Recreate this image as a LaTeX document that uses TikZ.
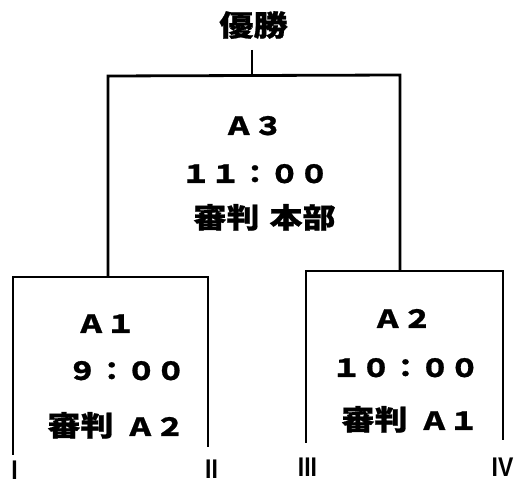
\documentclass[tikz,border=0pt]{standalone}
\usepackage{fontspec}
\setmainfont{Liberation Sans}
\newfontfamily\jp{Noto Sans CJK JP}[FakeStretch=1.18,FakeBold=0.8]
\newfontfamily\romf{Liberation Sans}[FakeStretch=0.85]
\newcommand{\kj}[1]{{\fontsize{28}{28}\selectfont #1}}
\tikzset{
  ln/.style={line width=2.8pt},
  lab/.style={font=\jp\bfseries\fontsize{25}{25}\selectfont, anchor=base, inner sep=0pt},
  ttl/.style={font=\jp\bfseries\fontsize{29}{29}\selectfont, anchor=base, inner sep=0pt},
  rom/.style={font=\romf\bfseries\fontsize{27}{27}\selectfont, anchor=base, inner sep=0pt},
}
\begin{document}
\begin{tikzpicture}[x=1pt,y=-1pt]
\useasboundingbox (0,0) rectangle (515,486);
% title
\node[ttl] (title) at (253.5,36) {優勝};
% A3
\node[lab] (a3a) at (253.5,135) {Ａ３};
\node[lab] (a3b) at (255,183) {１１：００};
\node[lab] (a3c) at (264.5,228) {\kj{審判}\hspace{10pt}\kj{本部}};
% A1
\node[lab] (a1a) at (106,333) {Ａ１};
\node[lab] (a1b) at (126.5,380) {９：００};
\node[lab] (a1c) at (116,436) {\kj{審判}\hspace{12pt}Ａ２};
% A2
\node[lab] (a2a) at (402.5,328) {Ａ２};
\node[lab] (a2b) at (405.5,377) {１０：００};
\node[lab] (a2c) at (410,430) {\kj{審判}\hspace{12pt}Ａ１};
% leaves
\node[rom] (l1) at (14.5,480) {I};
\node[rom] (l2) at (211.5,479) {II};
\node[rom] (l3) at (307.5,477) {III};
\node[rom] (l4) at (502.5,477) {IV};
% bracket points
\coordinate (top) at (252,50);
\coordinate (a3m) at (252,76);
\coordinate (a3l) at (108,76);
\coordinate (a3r) at (400,75);
\coordinate (a1m) at (108,277);
\coordinate (a1l) at (13,277);
\coordinate (a1r) at (208,277);
\coordinate (a2m) at (400,271);
\coordinate (a2l) at (306,271);
\coordinate (a2r) at (503,271);
\coordinate (e1) at (13,455);
\coordinate (e2) at (208,447);
\coordinate (e3) at (306,443);
\coordinate (e4) at (503,440);
\draw[ln] (top) -- (a3m);
\draw[ln] (a1m) -- (a3l) -- (a3r) -- (a2m);
\draw[ln] (e1) -- (a1l) -- (a1r) -- (e2);
\draw[ln] (e3) -- (a2l) -- (a2r) -- (e4);
\end{tikzpicture}
\end{document}
